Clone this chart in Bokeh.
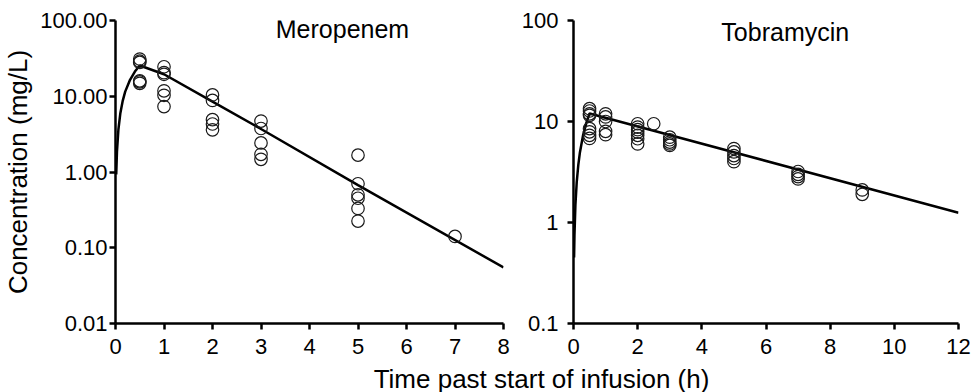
from bokeh.plotting import figure
from bokeh.layouts import column, row
from bokeh.models import Range1d, FixedTicker, CustomJSTickFormatter, Label
from bokeh.embed import file_html
from bokeh.resources import INLINE

# ---------------- data ----------------
mero_t = [0.5, 0.5, 0.5, 0.5, 0.5, 0.5,
          1, 1, 1, 1, 1, 1,
          2, 2, 2, 2, 2,
          3, 3, 3, 3, 3,
          5, 5, 5, 5, 5, 5,
          7]
mero_c = [31.0, 29.0, 28.0, 16.0, 15.5, 14.8,
          24.5, 20.5, 19.5, 11.8, 10.3, 7.3,
          10.4, 8.8, 4.9, 4.3, 3.6,
          4.7, 3.75, 2.42, 1.71, 1.47,
          1.67, 0.70, 0.50, 0.45, 0.33, 0.225,
          0.141]
mero_fit_t = [0.015, 0.03, 0.06, 0.1, 0.15, 0.2, 0.3, 0.4, 0.5, 1.0, 2.0, 3.0, 5.0, 8.0]
mero_fit_c = [0.93, 1.84, 3.64, 5.98, 8.77, 11.5, 16.5, 21.2, 25.5, 19.5, 8.5, 3.7, 0.67, 0.055]

tobra_t = [0.5, 0.5, 0.5, 0.5, 0.5, 0.5, 0.5, 0.5,
           1, 1, 1, 1, 1,
           2, 2, 2, 2, 2, 2, 2,
           2.5,
           3, 3, 3, 3, 3,
           5, 5, 5, 5, 5,
           7, 7, 7, 7,
           9, 9]
tobra_c = [13.4, 12.7, 11.9, 11.5, 8.5, 7.9, 7.3, 6.8,
           11.9, 11.1, 10.0, 8.0, 7.4,
           9.5, 8.8, 8.3, 7.85, 7.3, 6.75, 6.0,
           9.5,
           7.0, 6.6, 6.25, 6.0, 5.8,
           5.4, 5.0, 4.6, 4.3, 4.0,
           3.2, 3.0, 2.85, 2.7,
           2.1, 1.9]
tobra_fit_t = [0.018, 0.03, 0.06, 0.1, 0.15, 0.2, 0.3, 0.4, 0.5, 12.0]
tobra_fit_c = [0.45, 0.75, 1.50, 2.50, 3.72, 4.94, 7.34, 9.70, 12.0, 1.25]

mero_yticks = [0.01, 0.1, 1, 10, 100]
tobra_yticks = [0.1, 1, 10, 100]
mero_xticks = [0, 1, 2, 3, 4, 5, 6, 7, 8]
tobra_xticks = [0, 2, 4, 6, 8, 10, 12]

FONT = "Liberation Sans"


def style(p, xticks, yticks, fmt_code, ystandoff):
    p.outline_line_color = None
    p.xgrid.grid_line_color = None
    p.ygrid.grid_line_color = None
    for ax in (p.xaxis[0], p.yaxis[0]):
        ax.axis_line_color = "black"
        ax.axis_line_width = 2.5
        ax.major_tick_line_color = "black"
        ax.major_tick_line_width = 2.5
        ax.major_tick_out = 6
        ax.major_tick_in = 0
        ax.minor_tick_line_color = None
        ax.major_label_text_font = FONT
        ax.major_label_text_font_size = "22px"
        ax.major_label_text_color = "black"
    p.xaxis[0].ticker = FixedTicker(ticks=xticks)
    p.yaxis[0].ticker = FixedTicker(ticks=yticks, minor_ticks=[])
    p.yaxis[0].formatter = CustomJSTickFormatter(code=fmt_code)
    p.xaxis[0].major_label_standoff = 9
    p.yaxis[0].major_label_standoff = ystandoff


# ---------------- left: Meropenem ----------------
p1 = figure(width=518, height=365, x_range=Range1d(0, 8), y_range=Range1d(0.01, 100),
            y_axis_type="log", output_backend="svg", toolbar_location=None,
            min_border_left=114, min_border_right=15, min_border_top=20, min_border_bottom=42)
style(p1, mero_xticks, mero_yticks, "return tick.toFixed(2);", 2)
p1.yaxis[0].axis_label = "Concentration (mg/L)"
p1.yaxis[0].axis_label_text_font = FONT
p1.yaxis[0].axis_label_text_font_size = "26px"
p1.yaxis[0].axis_label_text_font_style = "normal"
p1.yaxis[0].axis_label_text_color = "black"
p1.yaxis[0].axis_label_standoff = 4

p1.line(mero_fit_t, mero_fit_c, line_color="black", line_width=2.5)
p1.scatter(mero_t, mero_c, marker="circle", size=12.5, fill_color=None,
           line_color="#1a1a1a", line_width=1.2)
p1.add_layout(Label(x=4.68, y=78, text="Meropenem", text_align="center",
                    text_baseline="alphabetic", text_font=FONT, text_font_size="25px",
                    text_color="black"))

# ---------------- right: Tobramycin ----------------
p2 = figure(width=454, height=365, x_range=Range1d(0, 12), y_range=Range1d(0.1, 100),
            y_axis_type="log", output_backend="svg", toolbar_location=None,
            min_border_left=52, min_border_right=14, min_border_top=20, min_border_bottom=42)
style(p2, tobra_xticks, tobra_yticks,
      "return tick < 1 ? tick.toFixed(1) : tick.toFixed(0);", 9)

p2.line(tobra_fit_t, tobra_fit_c, line_color="black", line_width=2.5)
p2.scatter(tobra_t, tobra_c, marker="circle", size=12.5, fill_color=None,
           line_color="#1a1a1a", line_width=1.2)
p2.add_layout(Label(x=6.6, y=77, text="Tobramycin", text_align="center",
                    text_baseline="alphabetic", text_font=FONT, text_font_size="25px",
                    text_color="black"))

# ---------------- shared x-axis title ----------------
p3 = figure(width=972, height=27, x_range=Range1d(0, 972), y_range=Range1d(0, 27),
            output_backend="svg", toolbar_location=None, min_border=0,
            x_axis_location=None, y_axis_location=None)
p3.outline_line_color = None
p3.xgrid.grid_line_color = None
p3.ygrid.grid_line_color = None
p3.add_layout(Label(x=541, y=14, text="Time past start of infusion (h)", text_align="center",
                    text_baseline="alphabetic", text_font=FONT, text_font_size="26px",
                    text_color="black"))

layout = column(row(p1, p2), p3)
open("out.html", "w").write(file_html(layout, INLINE))
